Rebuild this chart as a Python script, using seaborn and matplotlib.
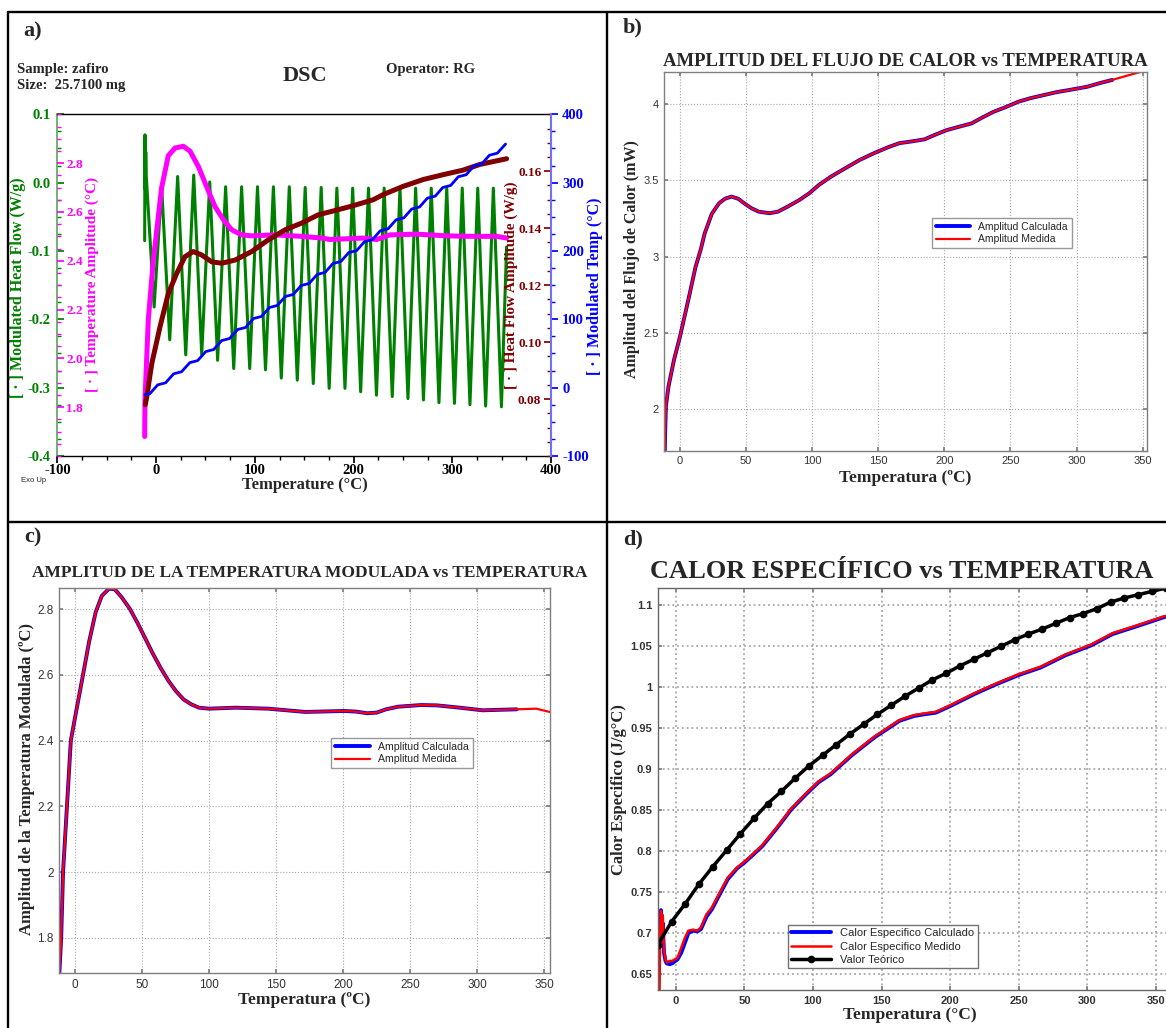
import numpy as np
import pandas as pd
import matplotlib
matplotlib.use("Agg")
import matplotlib.pyplot as plt
import seaborn as sns
from matplotlib.lines import Line2D
from matplotlib.ticker import MultipleLocator, FixedLocator, FuncFormatter

# ---------------- data ----------------
# panel a) DSC raw signals
green_T = [-11.6, -11.3, -10.9, -10.5, -10.0, -2.0, 5.6, 13.8, 21.8, 30.0, 38.1, 46.2, 54.3, 62.3,
           70.4, 78.6, 86.6, 94.8, 102.7, 110.8, 118.8, 126.8, 134.9, 143.0, 151.0, 159.2, 167.2,
           175.3, 183.1, 191.3, 199.1, 207.2, 215.1, 223.2, 231.0, 239.2, 247.0, 255.1, 262.9,
           270.8, 278.7, 286.5, 294.4, 302.2, 310.1, 317.9, 325.8, 333.8, 341.6, 349.8, 355.0]
green_v = [-0.085, 0.070, -0.010, 0.045, 0.010, -0.182, -0.006, -0.230, 0.009, -0.252, 0.011,
           -0.252, 0.001, -0.260, -0.006, -0.272, -0.006, -0.272, -0.006, -0.274, -0.006, -0.286,
           -0.006, -0.289, -0.007, -0.294, -0.007, -0.301, -0.008, -0.301, -0.008, -0.306, -0.008,
           -0.311, -0.008, -0.313, -0.008, -0.316, -0.008, -0.318, -0.008, -0.322, -0.008, -0.323,
           -0.008, -0.325, -0.008, -0.327, -0.008, -0.328, -0.094]

pink_T = [-11.6, -11.3, -7.9, -2.9, 5.6, 12.3, 19.1, 27.5, 34.3, 42.7, 51.1, 59.6, 68.0, 76.5,
          86.6, 96.8, 120.0, 147.0, 167.7, 176.0, 209.8, 223.4, 236.9, 263.9, 294.3, 317.9, 345.0, 355.0]
pink_v = [1.68, 1.83, 2.16, 2.40, 2.70, 2.83, 2.862, 2.869, 2.849, 2.787, 2.704, 2.622, 2.569, 2.527,
          2.506, 2.502, 2.506, 2.500, 2.493, 2.487, 2.493, 2.487, 2.506, 2.509, 2.502, 2.500, 2.500, 2.493]

brown_T = [-11.0, -9.6, -4.5, 3.9, 12.3, 20.8, 29.2, 37.6, 46.1, 56.3, 66.4, 79.9, 96.8, 113.6,
           130.5, 147.4, 164.2, 181.1, 196.5, 220.0, 230.0, 250.3, 270.6, 290.8, 311.0, 328.0, 355.0]
brown_v = [0.078, 0.0805, 0.0923, 0.1053, 0.117, 0.1241, 0.130, 0.1318, 0.1306, 0.1282, 0.1277,
           0.1288, 0.1318, 0.1359, 0.1394, 0.1418, 0.1447, 0.1462, 0.1476, 0.150, 0.1518, 0.1547,
           0.1571, 0.1588, 0.1604, 0.1624, 0.1644]

blue_T = [-11.3, -6.4, 1.6, 9.6, 17.8, 25.8, 34.1, 42.1, 50.3, 58.3, 66.4, 74.4, 82.6, 90.6, 98.7,
          106.7, 114.8, 122.8, 130.9, 138.9, 147.0, 155.0, 163.2, 171.2, 179.1, 187.1, 195.1, 203.1,
          211.1, 219.1, 227.0, 235.0, 243.0, 251.0, 258.9, 266.9, 274.7, 282.7, 290.4, 298.4, 306.1,
          314.1, 321.8, 329.8, 337.6, 345.6, 354.0]
blue_v = [-10.7, -8.9, 4.1, 7.1, 20.3, 23.3, 36.6, 39.6, 52.8, 55.8, 68.9, 71.9, 85.1, 88.1, 101.2,
          104.2, 117.3, 120.3, 133.4, 136.4, 149.5, 152.5, 165.7, 168.7, 181.6, 184.6, 197.6, 200.6,
          213.6, 216.6, 229.5, 232.5, 245.5, 248.5, 261.4, 264.4, 277.2, 280.2, 292.9, 295.9, 308.6,
          311.6, 324.3, 327.3, 340.1, 343.1, 356.5]

# panel b) heat-flow amplitude
hfa_T = [-11.5, -11.3, -10.7, -8.7, -4.6, 0.0, 6.3, 11.7, 15.8, 18.6, 24.0, 29.5, 34.0, 39.0, 44.0,
         48.6, 54.0, 59.6, 67.8, 74.0, 81.4, 90.0, 97.8, 105.0, 114.2, 125.0, 136.0, 147.0, 158.0,
         166.0, 174.3, 185.0, 193.0, 201.6, 210.0, 220.7, 228.0, 237.0, 246.0, 256.0, 265.0, 275.0,
         285.0, 294.5, 308.0, 318.0, 327.0, 337.0, 349.0, 353.0]
hfa_v = [1.727, 1.82, 2.016, 2.147, 2.32, 2.475, 2.716, 2.93, 3.05, 3.15, 3.28, 3.35, 3.38, 3.394,
         3.38, 3.35, 3.318, 3.295, 3.285, 3.295, 3.328, 3.37, 3.416, 3.47, 3.525, 3.58, 3.635, 3.68,
         3.72, 3.745, 3.755, 3.77, 3.80, 3.83, 3.85, 3.875, 3.91, 3.95, 3.98, 4.017, 4.04, 4.06,
         4.08, 4.094, 4.115, 4.14, 4.16, 4.185, 4.214, 4.214]
hfa_calc_end = 327.0

# panel c) modulated temperature amplitude
tam_T = [-11.7, -10.3, -8.9, -6.0, -3.1, 1.4, 6.0, 10.5, 15.4, 20.0, 25.4, 29.7, 35.0, 41.0, 47.0,
         52.5, 58.0, 64.0, 70.0, 75.4, 81.0, 86.8, 92.5, 100.0, 120.0, 144.0, 172.0, 201.0, 210.0,
         218.0, 225.0, 232.0, 241.0, 258.0, 270.0, 287.0, 304.0, 329.5, 344.0, 354.0]
tam_v = [1.69, 1.80, 2.00, 2.20, 2.40, 2.50, 2.60, 2.70, 2.79, 2.84, 2.862, 2.860, 2.835, 2.80,
         2.755, 2.71, 2.665, 2.62, 2.58, 2.55, 2.525, 2.51, 2.50, 2.497, 2.50, 2.497, 2.487, 2.49,
         2.488, 2.483, 2.485, 2.495, 2.503, 2.508, 2.507, 2.50, 2.492, 2.495, 2.497, 2.487]
tam_calc_end = 329.5

# panel d) specific heat
cp_T = [-12.0, -11.4, -10.8, -10.2, -9.5, -8.6, -7.5, -6.6, -4.5, -2.6, 1.3, 4.0, 6.6, 9.2, 12.5,
        15.8, 18.4, 22.4, 26.3, 31.6, 38.0, 44.7, 50.0, 55.3, 63.0, 73.7, 84.2, 94.7, 104.0, 113.0,
        129.0, 145.0, 163.0, 173.7, 181.0, 189.5, 200.0, 218.0, 234.0, 250.0, 265.8, 284.0, 302.6,
        318.4, 337.0, 356.6]
cp_meas = [0.600, 0.700, 0.727, 0.690, 0.722, 0.680, 0.668, 0.664, 0.666, 0.666, 0.670, 0.682,
           0.694, 0.703, 0.704, 0.703, 0.707, 0.723, 0.731, 0.748, 0.768, 0.780, 0.787, 0.795,
           0.807, 0.829, 0.852, 0.870, 0.885, 0.895, 0.919, 0.940, 0.960, 0.966, 0.968, 0.970,
           0.978, 0.993, 1.005, 1.016, 1.025, 1.040, 1.052, 1.066, 1.076, 1.087]
cp_calc = [0.690, 0.728, 0.700, 0.712, 0.676, 0.666, 0.663, 0.662, 0.663, 0.668, 0.676, 0.688,
           0.700, 0.703, 0.702, 0.705, 0.720, 0.729, 0.746, 0.766, 0.779, 0.786, 0.794, 0.806,
           0.828, 0.851, 0.869, 0.884, 0.894, 0.918, 0.939, 0.959, 0.965, 0.967, 0.969, 0.977,
           0.992, 1.004, 1.015, 1.024, 1.039, 1.051, 1.065, 1.075, 1.086]
theo_T = [-13, -3, 7, 17, 27, 37, 47, 57, 67, 77, 87, 97, 107, 117, 127, 137, 147, 157, 167, 177,
          187, 197, 207, 217, 227, 237, 247, 257, 267, 277, 287, 297, 307, 317, 327, 337, 347, 357]
theo_v = [0.686, 0.714, 0.736, 0.760, 0.781, 0.801, 0.821, 0.840, 0.858, 0.873, 0.889, 0.904,
          0.917, 0.930, 0.943, 0.955, 0.967, 0.978, 0.989, 0.999, 1.009, 1.017, 1.026, 1.034,
          1.042, 1.050, 1.058, 1.065, 1.071, 1.078, 1.085, 1.090, 1.096, 1.104, 1.109, 1.113,
          1.117, 1.121]

# ---------------- style ----------------
sns.set_theme(style="white")
plt.rcParams['font.family'] = ['Liberation Serif', 'DejaVu Serif']
plt.rcParams['axes.unicode_minus'] = False

W, H = 1166, 1028
fig = plt.figure(figsize=(W / 100, H / 100), dpi=100)
fig.patch.set_facecolor('white')


def prect(l, t, r, b):
    return [l / W, 1 - b / H, (r - l) / W, (b - t) / H]


def ftext(x, y, s, **kw):
    kw.setdefault('ha', 'center')
    kw.setdefault('va', 'center')
    return fig.text(x / W, 1 - y / H, s, **kw)


def fline(x1, y1, x2, y2):
    fig.add_artist(Line2D([x1 / W, x2 / W], [1 - y1 / H, 1 - y2 / H],
                          transform=fig.transFigure, color='black', lw=1.7))


GREEN = '#008000'
PINK = '#ff00ff'
MAROON = '#800000'
BLUE = '#0000ff'

# ---------------- panel a ----------------
ax = fig.add_axes(prect(57.4, 114.3, 551, 456))
ax.set_facecolor('none')
sns.lineplot(x=green_T, y=green_v, ax=ax, color=GREEN, linewidth=2.2, sort=False, estimator=None)
ax.set_xlim(-100, 400)
ax.set_ylim(-0.4, 0.1)
ax.xaxis.set_major_locator(MultipleLocator(100))
ax.xaxis.set_minor_locator(MultipleLocator(25))
ax.yaxis.set_major_locator(MultipleLocator(0.1))
ax.yaxis.set_minor_locator(MultipleLocator(0.025))
ax.yaxis.set_major_formatter(FuncFormatter(lambda v, p: ("%.1f" % v).replace("-0.0", "0.0")))
ax.tick_params(axis='x', which='both', direction='out', colors='black', bottom=True, labelsize=10.5, pad=1)
ax.tick_params(axis='x', which='major', length=5)
ax.tick_params(axis='x', which='minor', length=3)
ax.tick_params(axis='y', which='both', direction='in', colors=GREEN, left=True, labelsize=10.5, pad=5)
ax.tick_params(axis='y', which='major', length=5)
ax.tick_params(axis='y', which='minor', length=3)
for lbl in ax.get_xticklabels() + ax.get_yticklabels():
    lbl.set_fontweight('bold')
ax.spines['left'].set_color('#5fa85f')
ax.spines['right'].set_visible(False)
for s in ('top', 'bottom'):
    ax.spines[s].set_color('black')
    ax.spines[s].set_linewidth(1.0)
ax.set_xlabel('')
ax.set_ylabel('')

# pink: temperature amplitude (axis on left spine, labels inside)
axp = ax.twinx()
sns.lineplot(x=pink_T, y=pink_v, ax=axp, color=PINK, linewidth=3.6, sort=False, estimator=None)
axp.set_ylim(1.6, 3.0)
axp.spines['right'].set_position(('axes', 0))
axp.spines['right'].set_visible(False)
for s in ('left', 'top', 'bottom'):
    axp.spines[s].set_visible(False)
axp.yaxis.set_major_locator(FixedLocator([1.8, 2.0, 2.2, 2.4, 2.6, 2.8]))
axp.yaxis.set_minor_locator(MultipleLocator(0.05))
axp.yaxis.set_major_formatter(FuncFormatter(lambda v, p: "%.1f" % v))
axp.tick_params(axis='y', which='both', direction='out', colors=PINK, right=True, labelsize=9.5, pad=1.5)
axp.tick_params(axis='y', which='major', length=5)
axp.tick_params(axis='y', which='minor', length=3)
for lbl in axp.get_yticklabels():
    lbl.set_fontweight('bold')
axp.set_ylabel('')

# maroon: heat flow amplitude (axis on right spine, labels inside)
axm = ax.twinx()
sns.lineplot(x=brown_T, y=brown_v, ax=axm, color=MAROON, linewidth=3.6, sort=False, estimator=None)
axm.set_ylim(0.06, 0.18)
axm.yaxis.tick_left()
axm.spines['left'].set_position(('axes', 1))
axm.spines['left'].set_visible(False)
for s in ('right', 'top', 'bottom'):
    axm.spines[s].set_visible(False)
axm.yaxis.set_major_locator(FixedLocator([0.08, 0.10, 0.12, 0.14, 0.16]))
axm.yaxis.set_minor_locator(MultipleLocator(0.005))
axm.yaxis.set_major_formatter(FuncFormatter(lambda v, p: "%.2f" % v))
axm.tick_params(axis='y', which='both', direction='out', colors=MAROON, left=True, right=False,
                labelleft=True, labelright=False, labelsize=9.5, pad=2)
axm.tick_params(axis='y', which='major', length=5)
axm.tick_params(axis='y', which='minor', length=3)
for lbl in axm.get_yticklabels():
    lbl.set_fontweight('bold')
axm.set_ylabel('')

# blue: modulated temperature (right axis)
axb = ax.twinx()
sns.lineplot(x=blue_T, y=blue_v, ax=axb, color=BLUE, linewidth=2.0, sort=False, estimator=None)
axb.set_ylim(-100, 400)
axb.yaxis.set_major_locator(MultipleLocator(100))
axb.yaxis.set_minor_locator(MultipleLocator(25))
axb.spines['right'].set_color('#7070ff')
axb.spines['right'].set_linewidth(1.5)
for s in ('left', 'top', 'bottom'):
    axb.spines[s].set_visible(False)
axb.tick_params(axis='y', which='both', direction='out', colors=BLUE, right=True, labelsize=10.5, pad=3)
axb.tick_params(axis='y', which='major', length=5)
axb.tick_params(axis='y', which='minor', length=3)
for lbl in axb.get_yticklabels():
    lbl.set_fontweight('bold')
axb.set_ylabel('')

ftext(33, 31, 'a)', fontsize=16, weight='bold')
ftext(17, 70, 'Sample: zafiro', ha='left', fontsize=10.5, weight='bold')
ftext(17, 86, 'Size:  25.7100 mg', ha='left', fontsize=10.5, weight='bold')
ftext(305, 76, 'DSC', fontsize=16, weight='bold')
ftext(386, 69, 'Operator: RG', ha='left', fontsize=10.5, weight='bold')
ftext(21, 480, 'Exo Up', ha='left', fontsize=5.5, family=['Liberation Sans', 'DejaVu Sans'])
ftext(305, 485, 'Temperature (°C)', fontsize=12, weight='bold')
ftext(18, 288, '[ · ] Modulated Heat Flow (W/g)', rotation=90, fontsize=11.5, weight='bold', color=GREEN)
ftext(92, 284, '[ · ] Temperature Amplitude (°C)', rotation=90, fontsize=11, weight='bold', color=PINK)
ftext(511, 285, '[ · ] Heat Flow Amplitude (W/g)', rotation=90, fontsize=11, weight='bold', color=MAROON)
ftext(595, 286, '[ · ] Modulated Temp (°C)', rotation=90, fontsize=11.5, weight='bold', color=BLUE)


# ---------------- matlab-like helper ----------------
def matlab_axes(a, xlim, ylim, xstep, ystep, tick_fs, bold=False, grid_lw=0.8, spine_c='#7f7f7f'):
    a.set_xlim(*xlim)
    a.set_ylim(*ylim)
    a.xaxis.set_major_locator(MultipleLocator(xstep))
    a.yaxis.set_major_locator(MultipleLocator(ystep))
    a.xaxis.set_major_formatter(FuncFormatter(lambda v, p: "%g" % round(v, 4)))
    a.yaxis.set_major_formatter(FuncFormatter(lambda v, p: "%g" % round(v, 4)))
    a.grid(True, linestyle=':', color='#a8a8a8', linewidth=grid_lw)
    a.tick_params(direction='in', length=3, top=True, right=True, bottom=True, left=True,
                  labelsize=tick_fs, labelcolor='#333333', color='#7f7f7f', pad=4)
    for lbl in a.get_xticklabels() + a.get_yticklabels():
        lbl.set_fontfamily(['Liberation Sans', 'DejaVu Sans'])
        if bold:
            lbl.set_fontweight('bold')
    for s in a.spines.values():
        s.set_color(spine_c)
        s.set_linewidth(1.0)
    a.set_xlabel('')
    a.set_ylabel('')


def sans(size):
    return {'family': ['Liberation Sans', 'DejaVu Sans'], 'size': size}


# ---------------- panel b ----------------
ax2 = fig.add_axes(prect(664, 71.7, 1147, 450.7))
hb = pd.DataFrame({'T': hfa_T, 'A': hfa_v})
hb_calc = hb[hb['T'] <= hfa_calc_end]
sns.lineplot(data=hb_calc, x='T', y='A', ax=ax2, color=BLUE, linewidth=2.8, sort=False,
             estimator=None, label='Amplitud Calculada')
sns.lineplot(data=hb, x='T', y='A', ax=ax2, color='#ff0000', linewidth=1.6, sort=False,
             estimator=None, label='Amplitud Medida')
matlab_axes(ax2, (-12.1, 353.3), (1.726, 4.214), 50, 0.5, 8)
ax2.legend(loc='upper left', bbox_to_anchor=(0.555, 0.614), prop=sans(7.5), frameon=True,
           fancybox=False, edgecolor='#808080', handlelength=3.3, borderpad=0.35,
           labelspacing=0.25, borderaxespad=0)
ftext(633, 27, 'b)', fontsize=16, weight='bold')
ftext(905, 61, 'AMPLITUD DEL FLUJO DE CALOR vs TEMPERATURA', fontsize=13.5, weight='bold')
ftext(905, 478, 'Temperatura (ºC)', fontsize=12.5, weight='bold')
ftext(632, 259, 'Amplitud del Flujo de Calor (mW)', rotation=90, fontsize=11.5, weight='bold')

# ---------------- panel c ----------------
ax3 = fig.add_axes(prect(59.3, 588, 550, 973))
tc = pd.DataFrame({'T': tam_T, 'A': tam_v})
tc_calc = tc[tc['T'] <= tam_calc_end]
sns.lineplot(data=tc_calc, x='T', y='A', ax=ax3, color=BLUE, linewidth=2.8, sort=False,
             estimator=None, label='Amplitud Calculada')
sns.lineplot(data=tc, x='T', y='A', ax=ax3, color='#ff0000', linewidth=1.6, sort=False,
             estimator=None, label='Amplitud Medida')
matlab_axes(ax3, (-11.7, 354.3), (1.693, 2.864), 50, 0.2, 8.5)
ax3.legend(loc='upper left', bbox_to_anchor=(0.554, 0.61), prop=sans(7.6),
           frameon=True, fancybox=False, edgecolor='#808080', handlelength=3.3, borderpad=0.35,
           labelspacing=0.25, borderaxespad=0)
ftext(33, 537, 'c)', fontsize=16, weight='bold')
ftext(310, 573, 'AMPLITUD DE LA TEMPERATURA MODULADA vs TEMPERATURA', fontsize=12.5, weight='bold')
ftext(304, 1000, 'Temperatura (ºC)', fontsize=12.5, weight='bold')
ftext(27, 779, 'Amplitud de la Temperatura Modulada (ºC)', rotation=90, fontsize=12, weight='bold')

# ---------------- panel d ----------------
ax4 = fig.add_axes(prect(657.8, 588.3, 1169.7, 990))
sns.lineplot(x=cp_T[1:], y=cp_calc, ax=ax4, color=BLUE, linewidth=2.8, sort=False,
             estimator=None, label='Calor Especifico Calculado')
sns.lineplot(x=cp_T, y=cp_meas, ax=ax4, color='#ff0000', linewidth=1.8, sort=False,
             estimator=None, label='Calor Especifico Medido')
sns.lineplot(x=theo_T, y=theo_v, ax=ax4, color='black', linewidth=2.5, sort=False,
             estimator=None, marker='o', markersize=5.5, markeredgewidth=0, label='Valor Teórico')
matlab_axes(ax4, (-13.1, 360), (0.6305, 1.1208), 50, 0.05, 8, bold=True, grid_lw=1.3, spine_c='#666666')
ax4.legend(loc='upper left', bbox_to_anchor=(0.254, 0.162), prop=sans(8),
           frameon=True, fancybox=False, edgecolor='#505050', handlelength=3.6, borderpad=0.3,
           labelspacing=0.3, borderaxespad=0)
ftext(633, 539, 'd)', fontsize=16, weight='bold')
ftext(650, 572, 'CALOR ESPECÍFICO vs TEMPERATURA', ha='left', fontsize=19, weight='bold')
ftext(910, 1015, 'Temperatura (°C)', fontsize=12.5, weight='bold')
ftext(619, 790, 'Calor Especifico (J/g°C)', rotation=90, fontsize=12, weight='bold')

# ---------------- panel frame lines ----------------
fline(7.6, 12, 1166, 12)
fline(7.6, 12, 7.6, 1028)
fline(607, 12, 607, 1028)
fline(7.6, 521.7, 1166, 521.7)

fig.savefig('out.png', dpi=100)
